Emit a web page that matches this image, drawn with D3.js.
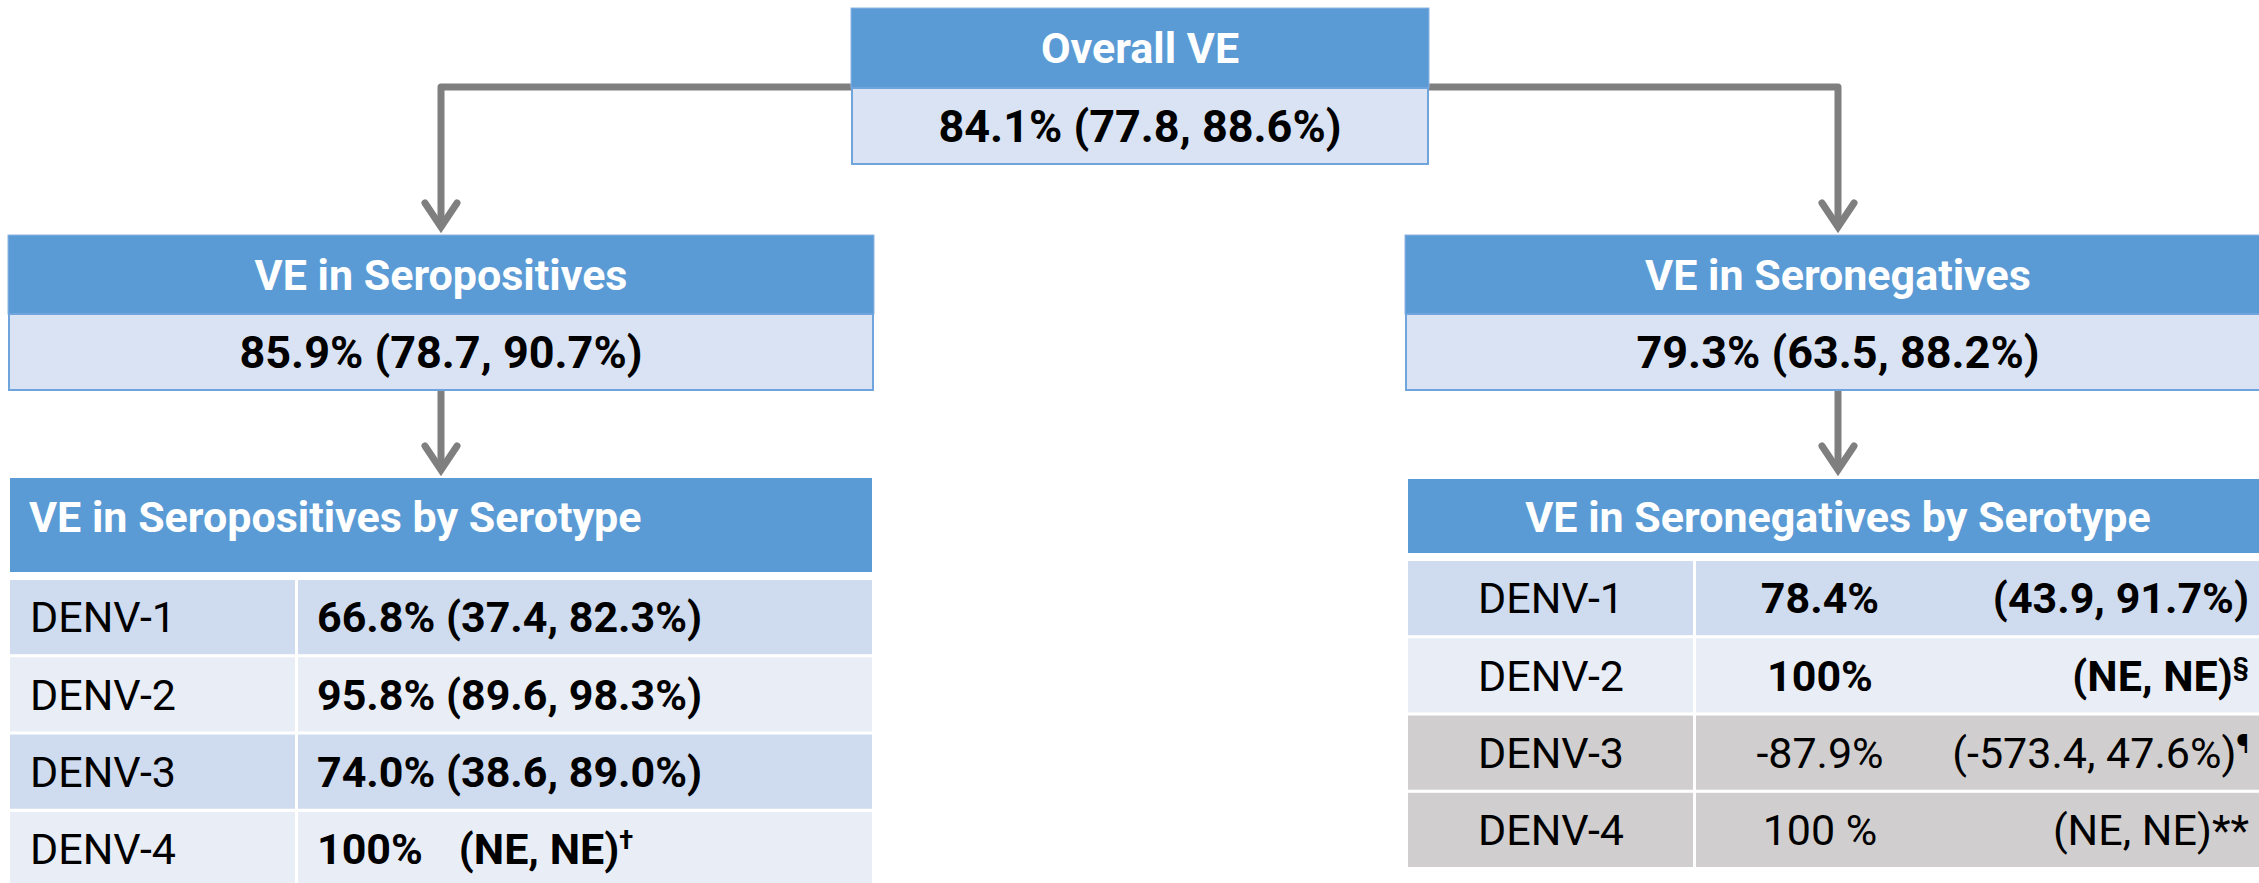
<!DOCTYPE html>
<html>
<head>
<meta charset="utf-8">
<script src="https://cdn.jsdelivr.net/npm/d3@7"></script>
<style>
  html, body { margin: 0; padding: 0; background: #fff; }
  svg { display: block; font-family: Roboto, "Open Sans", sans-serif; }
</style>
</head>
<body>
<div id="graph"></div>
<script>
// chart values
const overallTitle = 'Overall VE'
const overallValue = '84.1% (77.8, 88.6%)'

const groupTitles = ['VE in Seropositives', 'VE in Seronegatives']
const groupValues = ['85.9% (78.7, 90.7%)', '79.3% (63.5, 88.2%)']
const tableTitles = ['VE in Seropositives by Serotype', 'VE in Seronegatives by Serotype']

const serotypes = ['DENV-1', 'DENV-2', 'DENV-3', 'DENV-4']

const posVE = ['66.8%', '95.8%', '74.0%', '100%']
const posCI = ['(37.4, 82.3%)', '(89.6, 98.3%)', '(38.6, 89.0%)', '(NE, NE)']
const posNote = ['', '', '', '†']

const negVE = ['78.4%', '100%', '-87.9%', '100 %']
const negCI = ['(43.9, 91.7%)', '(NE, NE)', '(-573.4, 47.6%)', '(NE, NE)']
const negNote = ['', '§', '¶', '**']
const negSignificant = [true, true, false, false]

const size = { width: 2259, height: 883 }
const blue = '#5b9bd5'
const light = '#dae3f3'
const rowDark = '#cfdbee'
const rowLight = '#e9edf6'
const rowGray = '#d0cece'
const arrowGray = '#7f7f7f'

const svg = d3.select('#graph')
.append('svg')
.attr('width', size.width)
.attr('height', size.height)

// panel centres
const panelX = d3.scalePoint().domain([0, 1]).range([441, 1838])
const panelW = 866

// rows of the two tables
const rowsLeft = d3.scaleBand().domain(serotypes).range([580, 886]).paddingInner(0.04)
const rowsRight = d3.scaleBand().domain(serotypes).range([561, 867]).paddingInner(0.04)

const base = (top, h, fs) => top + h / 2 + fs * 0.355

// ---------- connectors (drawn first, boxes go over) ----------
const arrows = svg.append('g')
.attr('fill', 'none')
.attr('stroke', arrowGray)
.attr('stroke-width', 7)

const overallBox = { x: 851, w: 578, y: 8, hh: 80, vh: 76 }
const lineY = 87

function arrowHead(x, tipY) {
  arrows.append('path')
  .attr('d', `M${x - 16},${tipY - 31} L${x},${tipY - 7} L${x + 16},${tipY - 31}`)
  .attr('stroke-linecap', 'round')
  .attr('stroke-linejoin', 'miter')
}

arrows.append('path')
.attr('d', `M${overallBox.x},${lineY} H${panelX(0)} V${228}`)
.attr('stroke-linejoin', 'round')
arrows.append('path')
.attr('d', `M${overallBox.x + overallBox.w},${lineY} H${panelX(1)} V${228}`)
.attr('stroke-linejoin', 'round')
arrowHead(panelX(0), 234)
arrowHead(panelX(1), 234)

;[0, 1].forEach(i => {
  arrows.append('line')
  .attr('x1', panelX(i)).attr('x2', panelX(i))
  .attr('y1', 390).attr('y2', 470)
  arrowHead(panelX(i), 477)
})

// ---------- boxes ----------
function titledBox(cx, w, y, hh, vh, title, value, titleSize, valueSize) {
  const g = svg.append('g')
  g.append('rect')
  .attr('x', cx - w / 2).attr('y', y)
  .attr('width', w).attr('height', hh)
  .attr('fill', blue)
  .attr('stroke', '#8db4e2').attr('stroke-width', 1)
  g.append('rect')
  .attr('x', cx - w / 2 + 1).attr('y', y + hh)
  .attr('width', w - 2).attr('height', vh)
  .attr('fill', light)
  .attr('stroke', '#6fa5dc').attr('stroke-width', 2)
  g.append('text')
  .attr('x', cx).attr('y', base(y, hh, titleSize))
  .attr('text-anchor', 'middle')
  .attr('font-size', titleSize).attr('font-weight', 'bold')
  .attr('fill', '#fff')
  .text(title)
  g.append('text')
  .attr('x', cx).attr('y', base(y + hh, vh, valueSize))
  .attr('text-anchor', 'middle')
  .attr('font-size', valueSize).attr('font-weight', 'bold')
  .attr('fill', '#000')
  .text(value)
}

titledBox(overallBox.x + overallBox.w / 2, overallBox.w, overallBox.y, overallBox.hh, overallBox.vh,
  overallTitle, overallValue, 43, 45)

groupTitles.forEach((t, i) => {
  titledBox(panelX(i), panelW, 235, 79, 76, t, groupValues[i], 43, 45)
})

// ---------- serotype tables ----------
const fs = 43
const col1W = 286

// left table
const lx = panelX(0) - panelW / 2 + 2
svg.append('rect')
.attr('x', lx).attr('y', 478)
.attr('width', panelW - 4).attr('height', 94)
.attr('fill', blue)
svg.append('text')
.attr('x', lx + 19).attr('y', 532)
.attr('font-size', fs).attr('font-weight', 'bold')
.attr('fill', '#fff')
.text(tableTitles[0])

const left = svg.append('g')
.selectAll('g')
.data(serotypes)
.join('g')

left.append('rect')
.attr('x', lx).attr('y', d => rowsLeft(d))
.attr('width', col1W - 1).attr('height', rowsLeft.bandwidth())
.attr('fill', (d, i) => i % 2 ? rowLight : rowDark)
left.append('rect')
.attr('x', lx + col1W + 2).attr('y', d => rowsLeft(d))
.attr('width', panelW - 4 - col1W - 2).attr('height', rowsLeft.bandwidth())
.attr('fill', (d, i) => i % 2 ? rowLight : rowDark)
left.append('text')
.attr('x', lx + 20).attr('y', d => base(rowsLeft(d), rowsLeft.bandwidth(), fs))
.attr('font-size', fs)
.text(d => d)

const leftVal = left.append('text')
.attr('x', lx + 307).attr('y', d => base(rowsLeft(d), rowsLeft.bandwidth(), fs))
.attr('font-size', fs).attr('font-weight', 'bold')
leftVal.append('tspan').text((d, i) => posVE[i])
leftVal.append('tspan')
.attr('dx', (d, i) => posNote[i] ? 36 : 0)
.text((d, i) => (posNote[i] ? '' : ' ') + posCI[i])
leftVal.append('tspan')
.attr('font-size', fs * 0.6)
.attr('dy', -fs * 0.35)
.text((d, i) => posNote[i])

// right table
const rx = panelX(1) - panelW / 2 + 3
svg.append('rect')
.attr('x', rx).attr('y', 479)
.attr('width', panelW - 4).attr('height', 74)
.attr('fill', blue)
svg.append('text')
.attr('x', panelX(1)).attr('y', 532)
.attr('text-anchor', 'middle')
.attr('font-size', fs).attr('font-weight', 'bold')
.attr('fill', '#fff')
.text(tableTitles[1])

const right = svg.append('g')
.selectAll('g')
.data(serotypes)
.join('g')

const rightFill = (d, i) => negSignificant[i] ? (i % 2 ? rowLight : rowDark) : rowGray

right.append('rect')
.attr('x', rx).attr('y', d => rowsRight(d))
.attr('width', col1W - 1).attr('height', rowsRight.bandwidth())
.attr('fill', rightFill)
right.append('rect')
.attr('x', rx + col1W + 2).attr('y', d => rowsRight(d))
.attr('width', panelW - 4 - col1W - 2).attr('height', rowsRight.bandwidth())
.attr('fill', rightFill)
right.append('text')
.attr('x', rx + col1W / 2).attr('y', d => base(rowsRight(d), rowsRight.bandwidth(), fs))
.attr('text-anchor', 'middle')
.attr('font-size', fs)
.text(d => d)
right.append('text')
.attr('x', 1820).attr('y', d => base(rowsRight(d), rowsRight.bandwidth(), fs))
.attr('text-anchor', 'middle')
.attr('font-size', fs)
.attr('font-weight', (d, i) => negSignificant[i] ? 'bold' : 'normal')
.text((d, i) => negVE[i])

const rightCI = right.append('text')
.attr('x', 2249).attr('y', d => base(rowsRight(d), rowsRight.bandwidth(), fs))
.attr('text-anchor', 'end')
.attr('font-size', fs)
.attr('font-weight', (d, i) => negSignificant[i] ? 'bold' : 'normal')
rightCI.append('tspan').text((d, i) => negCI[i])
rightCI.append('tspan')
.attr('font-size', (d, i) => negNote[i] === '**' ? fs : fs * 0.6)
.attr('dy', (d, i) => negNote[i] === '**' ? 0 : -fs * 0.35)
.text((d, i) => negNote[i])
</script>
</body>
</html>
